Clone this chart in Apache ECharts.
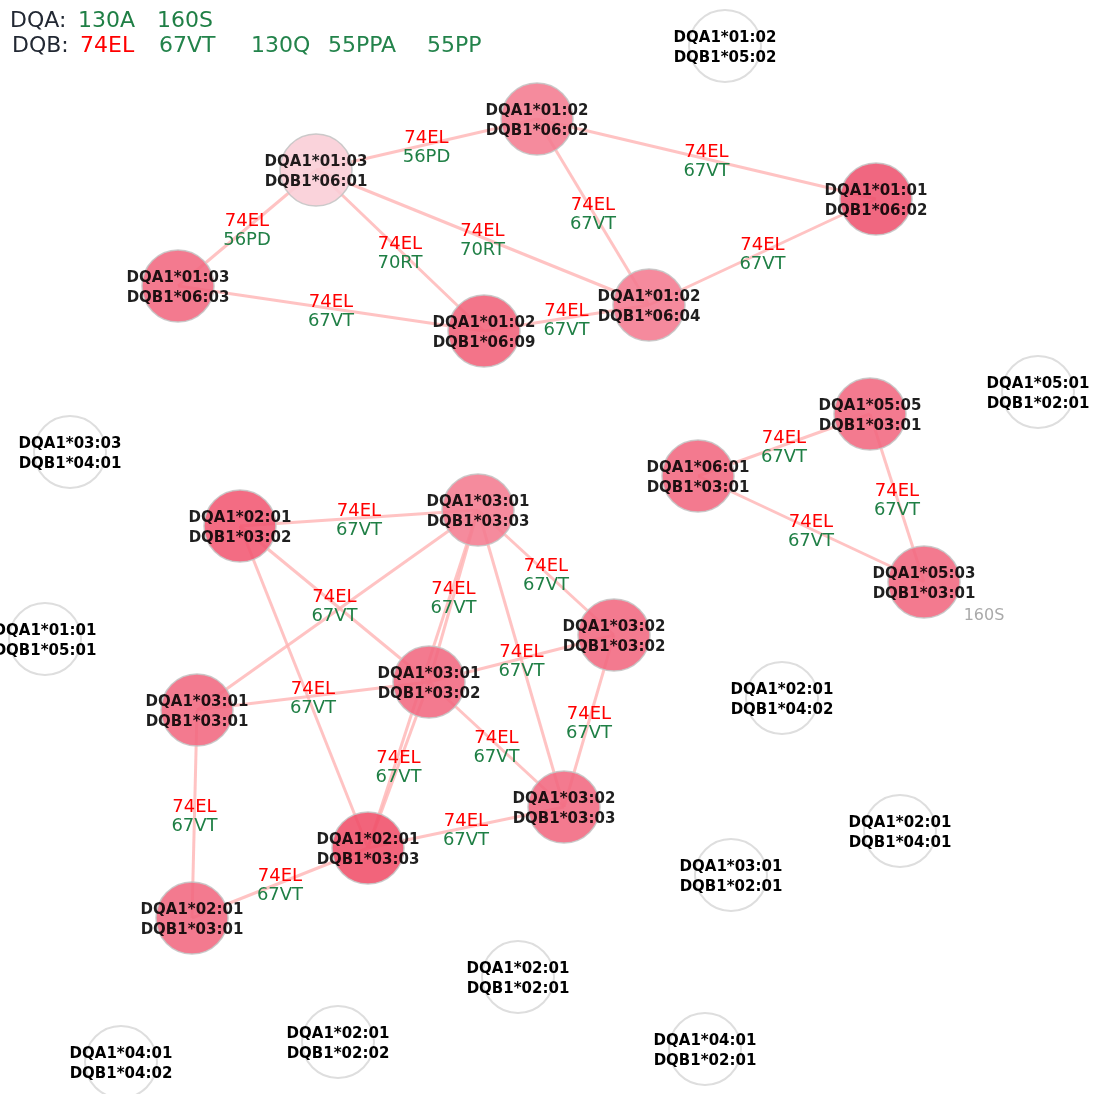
<!DOCTYPE html>
<html>
<head>
<meta charset="utf-8">
<script src="https://cdn.jsdelivr.net/npm/echarts@6/dist/echarts.min.js"></script>
<style>
html, body { margin: 0; padding: 0; background: #fff; }
#chart { width: 1094px; height: 1094px; }
</style>
</head>
<body>
<div id="chart"></div>
<script>
// haplotype nodes (network layout positions)
const haplotypes = [
  'DQA1*01:02\nDQB1*06:02', 'DQA1*01:03\nDQB1*06:01', 'DQA1*01:01\nDQB1*06:02',
  'DQA1*01:03\nDQB1*06:03', 'DQA1*01:02\nDQB1*06:04', 'DQA1*01:02\nDQB1*06:09',
  'DQA1*05:05\nDQB1*03:01', 'DQA1*06:01\nDQB1*03:01', 'DQA1*05:03\nDQB1*03:01',
  'DQA1*02:01\nDQB1*03:02', 'DQA1*03:01\nDQB1*03:03', 'DQA1*03:02\nDQB1*03:02',
  'DQA1*03:01\nDQB1*03:02', 'DQA1*03:01\nDQB1*03:01', 'DQA1*03:02\nDQB1*03:03',
  'DQA1*02:01\nDQB1*03:03', 'DQA1*02:01\nDQB1*03:01',
  'DQA1*01:02\nDQB1*05:02', 'DQA1*05:01\nDQB1*02:01', 'DQA1*03:03\nDQB1*04:01',
  'DQA1*01:01\nDQB1*05:01', 'DQA1*02:01\nDQB1*04:02', 'DQA1*02:01\nDQB1*04:01',
  'DQA1*03:01\nDQB1*02:01', 'DQA1*02:01\nDQB1*02:01', 'DQA1*02:01\nDQB1*02:02',
  'DQA1*04:01\nDQB1*04:02', 'DQA1*04:01\nDQB1*02:01'
];
const posX = [537, 316, 876, 178, 649, 484, 870, 698, 924, 240, 478, 614, 429, 197, 564, 368, 192,
  725, 1038, 70, 45, 782, 900, 731, 518, 338, 121, 705];
const posY = [119, 170, 199, 286, 305, 331, 414, 476, 582, 526, 510, 635, 682, 710, 807, 848, 918,
  46, 392, 452, 639, 698, 831, 875, 977, 1042, 1062, 1049];
// null = haplotype without carrier (open circle)
const nodeColors = ['#f47b90', '#f9cdd6', '#ee526e', '#f1687f', '#f47a8f', '#f16179',
  '#f1687f', '#f1687f', '#f1687f', '#f15872', '#f47b90', '#f1687f', '#f1687f', '#f1687f',
  '#f1687f', '#f04f69', '#f1687f',
  null, null, null, null, null, null, null, null, null, null, null];

// links: source, target, DQB marker, second marker, label drawn
const linkSource = [0, 0, 0, 1, 1, 1, 2, 3, 5, 6, 6, 7, 9, 9, 9, 10, 10, 10, 10, 10, 11, 11, 12, 12, 12, 13, 15, 16];
const linkTarget = [1, 2, 4, 3, 5, 4, 4, 5, 4, 7, 8, 8, 10, 12, 15, 11, 12, 14, 15, 13, 12, 14, 13, 14, 15, 16, 14, 15];
const linkMarkerA = ['74EL', '74EL', '74EL', '74EL', '74EL', '74EL', '74EL', '74EL', '74EL', '74EL',
  '74EL', '74EL', '74EL', '74EL', '74EL', '74EL', '74EL', '74EL', '74EL', '74EL', '74EL', '74EL',
  '74EL', '74EL', '74EL', '74EL', '74EL', '74EL'];
const linkMarkerB = ['56PD', '67VT', '67VT', '56PD', '70RT', '70RT', '67VT', '67VT', '67VT', '67VT',
  '67VT', '67VT', '67VT', '67VT', '67VT', '67VT', '67VT', '67VT', '67VT', '67VT', '67VT', '67VT',
  '67VT', '67VT', '67VT', '67VT', '67VT', '67VT'];
const linkLabelShown = [1, 1, 1, 1, 1, 1, 1, 1, 1, 1, 1, 1, 1, 1, 0, 1, 1, 0, 0, 0, 1, 1, 1, 1, 1, 1, 1, 1];

// extra node annotation
const noteNode = [8];
const noteText = ['160S'];

// legend markers
const dqaMarkers = ['130A', '160S'];
const dqbMarkers = ['74EL', '67VT', '130Q', '55PPA', '55PP'];
const dqbMarkerColors = ['#ff0000', '#23834b', '#23834b', '#23834b', '#23834b'];
const dqaMarkerX = [78, 157];
const dqbMarkerX = [80, 159, 251, 328, 427];

const GREEN = '#1f7f45';
const FONT = 'DejaVu Sans';

const nodes = haplotypes.map((name, i) => ({
  name: name,
  value: [posX[i], posY[i]],
  itemStyle: nodeColors[i]
    ? { color: nodeColors[i], opacity: 0.88, borderColor: '#c4c4c4', borderWidth: 1.5 }
    : { color: '#ffffff', opacity: 1, borderColor: '#dedede', borderWidth: 2 }
}));

const links = linkSource.map((s, i) => ({ source: s, target: linkTarget[i] }));

const edgeLabels = [];
linkSource.forEach((s, i) => {
  if (!linkLabelShown[i]) return;
  edgeLabels.push({
    value: [(posX[s] + posX[linkTarget[i]]) / 2, (posY[s] + posY[linkTarget[i]]) / 2],
    a: linkMarkerA[i],
    b: linkMarkerB[i]
  });
});

const notes = noteNode.map((n, i) => ({ value: [posX[n], posY[n]], text: noteText[i] }));

const graphic = [
  { type: 'text', x: 10, y: 21, style: { text: 'DQA:', fill: '#222833', fontSize: 22, fontFamily: FONT, verticalAlign: 'middle' } },
  { type: 'text', x: 12, y: 46, style: { text: 'DQB:', fill: '#222833', fontSize: 22, fontFamily: FONT, verticalAlign: 'middle' } }
];
dqaMarkers.forEach((m, i) => graphic.push({
  type: 'text', x: dqaMarkerX[i], y: 21,
  style: { text: m, fill: GREEN, fontSize: 22, fontFamily: FONT, verticalAlign: 'middle' }
}));
dqbMarkers.forEach((m, i) => graphic.push({
  type: 'text', x: dqbMarkerX[i], y: 46,
  style: { text: m, fill: dqbMarkerColors[i], fontSize: 22, fontFamily: FONT, verticalAlign: 'middle' }
}));

const chart = echarts.init(document.getElementById('chart'));
chart.setOption({
  animation: false,
  backgroundColor: '#ffffff',
  grid: { left: 0, right: 0, top: 0, bottom: 0 },
  xAxis: { type: 'value', min: 0, max: 1094, show: false },
  yAxis: { type: 'value', min: 0, max: 1094, inverse: true, show: false },
  graphic: graphic,
  series: [
    {
      type: 'graph',
      coordinateSystem: 'cartesian2d',
      symbol: 'circle',
      symbolSize: 72,
      data: nodes,
      links: links,
      lineStyle: { color: '#ffb4b4', width: 3, opacity: 0.8, curveness: 0 },
      label: {
        show: true,
        position: 'inside',
        offset: [0, 2],
        color: '#000',
        fontFamily: FONT,
        fontWeight: 'bold',
        fontSize: 15,
        lineHeight: 20,
        align: 'center'
      },
      emphasis: { disabled: true },
      z: 2
    },
    {
      type: 'scatter',
      symbolSize: 1,
      itemStyle: { color: 'rgba(0,0,0,0)', opacity: 1 },
      data: edgeLabels,
      label: {
        show: true,
        position: 'inside',
        offset: [0, 3],
        opacity: 1,
        formatter: p => '{a|' + p.data.a + '}\n{b|' + p.data.b + '}',
        rich: {
          a: { color: '#ff0000', fontSize: 18, lineHeight: 19, fontFamily: FONT },
          b: { color: GREEN, fontSize: 18, lineHeight: 19, fontFamily: FONT }
        }
      },
      emphasis: { disabled: true },
      silent: true,
      z: 5
    },
    {
      type: 'scatter',
      symbolSize: 1,
      itemStyle: { color: 'rgba(0,0,0,0)', opacity: 1 },
      data: notes,
      label: {
        show: true,
        position: 'inside',
        offset: [60, 34],
        opacity: 1,
        formatter: p => p.data.text,
        color: '#aaaaaa',
        fontSize: 16,
        fontFamily: FONT
      },
      silent: true,
      z: 5
    }
  ]
});
</script>
</body>
</html>
